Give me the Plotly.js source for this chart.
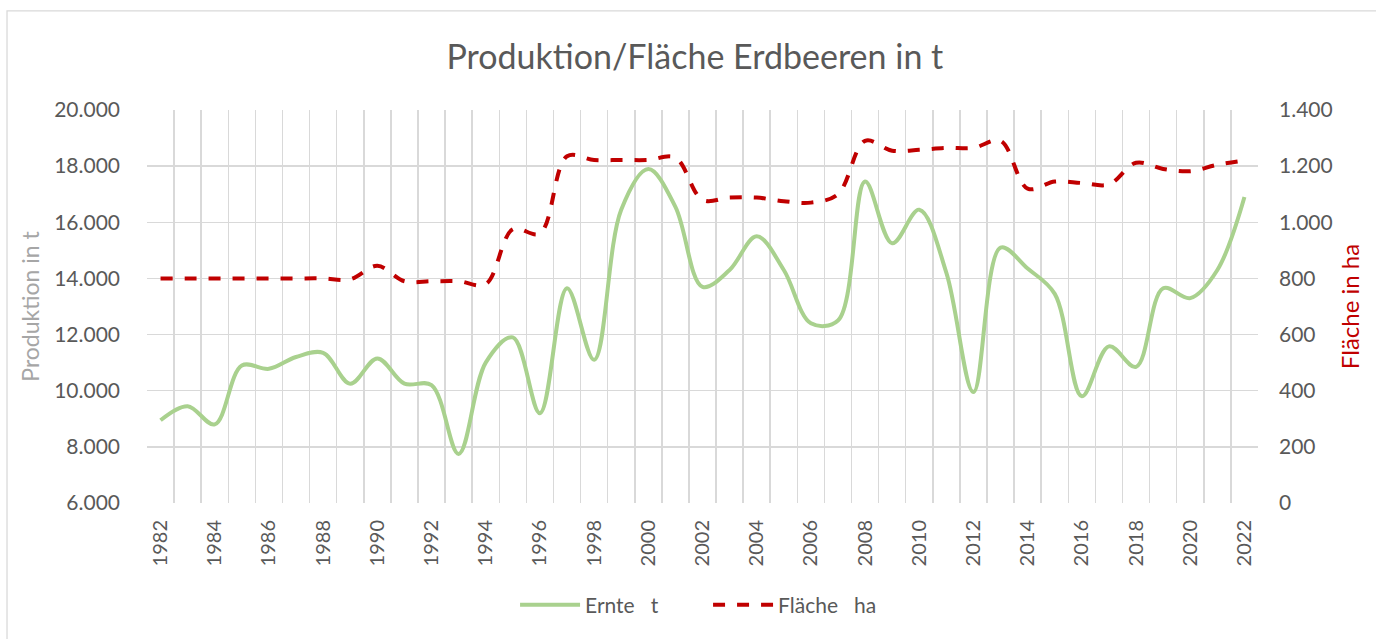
<!DOCTYPE html>
<html>
<head>
<meta charset="utf-8">
<script src="https://cdn.plot.ly/plotly-3.0.1.min.js"></script>
<style>html,body{margin:0;padding:0;background:#fff;}#chart{width:1376px;height:639px;}</style>
</head>
<body>
<div id="chart"></div>
<script>
const years = [1982,1983,1984,1985,1986,1987,1988,1989,1990,1991,1992,1993,1994,1995,1996,1997,1998,1999,2000,2001,2002,2003,2004,2005,2006,2007,2008,2009,2010,2011,2012,2013,2014,2015,2016,2017,2018,2019,2020,2021,2022];
const ernte = [8950,9450,8800,10900,10780,11200,11350,10250,11150,10250,10200,7750,11000,11900,9200,13650,11100,16450,17900,16550,13700,14300,15500,14300,12400,12500,17450,15250,16450,14200,9950,15100,14350,13450,9800,11580,10850,13650,13300,14300,16900];
const flaeche = [800,800,800,800,800,800,800,797,845,790,790,790,780,975,960,1235,1222,1222,1222,1230,1080,1088,1088,1075,1070,1100,1290,1255,1258,1265,1265,1290,1120,1145,1140,1135,1212,1190,1182,1205,1220];
const tickYears = [1982,1984,1986,1988,1990,1992,1994,1996,1998,2000,2002,2004,2006,2008,2010,2012,2014,2016,2018,2020,2022];
const tickLabels = tickYears.map(String);
const seriesNames = ["Ernte\u00a0\u00a0\u00a0t", "Fläche\u00a0\u00a0\u00a0ha"];

const font = "Lato, 'Open Sans', sans-serif";
const traces = [
  {x: years, y: ernte, name: seriesNames[0], type: 'scatter', mode: 'lines',
   line: {color: '#A9D18E', width: 4, shape: 'spline', smoothing: 1}, yaxis: 'y'},
  {x: years, y: flaeche, name: seriesNames[1], type: 'scatter', mode: 'lines',
   line: {color: '#C00000', width: 4, dash: 'dash', shape: 'spline', smoothing: 1}, yaxis: 'y2'}
];
const layout = {
  width: 1376, height: 639,
  margin: {l: 147, r: 118, t: 110, b: 136},
  paper_bgcolor: '#fff', plot_bgcolor: '#fff',
  separators: ',.',
  font: {family: font, color: '#595959', size: 20},
  title: {text: 'Produktion/Fläche Erdbeeren in t', font: {family: font, size: 34, color: '#595959'},
          x: 0.505, xanchor: 'center', y: 0.91, yanchor: 'middle'},
  showlegend: true,
  legend: {orientation: 'h', x: 0.505, xanchor: 'center', y: -0.26, yanchor: 'middle',
           font: {family: font, size: 21, color: '#595959'}, itemwidth: 60, entrywidth: 118,
           traceorder: 'normal'},
  xaxis: {type: 'linear', range: [1981.5, 2022.5], tickvals: tickYears, ticktext: tickLabels,
          tickangle: -90, showgrid: false, zeroline: false, showline: false,
          ticks: '', ticklabelstandoff: 12,
          tickfont: {family: font, size: 20, color: '#595959'},
          minor: {tick0: 1981.5, dtick: 1, showgrid: true, gridcolor: '#D9D9D9', gridwidth: 1.5, ticks: ''}},
  yaxis: {range: [6000, 20000], dtick: 2000, tick0: 6000, tickformat: ',d',
          showgrid: true, gridcolor: '#D9D9D9', gridwidth: 1.5, zeroline: false, showline: false,
          ticks: '', ticklabelstandoff: 26,
          tickfont: {family: font, size: 21, color: '#595959'},
          title: {text: 'Produktion in t', font: {family: font, size: 23, color: '#A6A6A6'}, standoff: 8}},
  yaxis2: {range: [0, 1400], dtick: 200, tick0: 0, tickformat: ',d', overlaying: 'y', side: 'right',
           showgrid: false, zeroline: false, showline: false, ticks: '', ticklabelstandoff: 20,
           tickfont: {family: font, size: 21, color: '#595959'},
           title: {text: 'Fläche in ha', font: {family: font, size: 24, color: '#C00000'}, standoff: 10}},
  shapes: [{type: 'rect', xref: 'paper', yref: 'paper', x0: -0.126, x1: 1.115, y0: -0.37, y1: 1.252,
            line: {color: '#D9D9D9', width: 1.3}, fillcolor: 'rgba(0,0,0,0)', layer: 'below'}],
  hovermode: false
};
Plotly.newPlot('chart', traces, layout, {displayModeBar: false, staticPlot: true});
</script>
</body>
</html>
